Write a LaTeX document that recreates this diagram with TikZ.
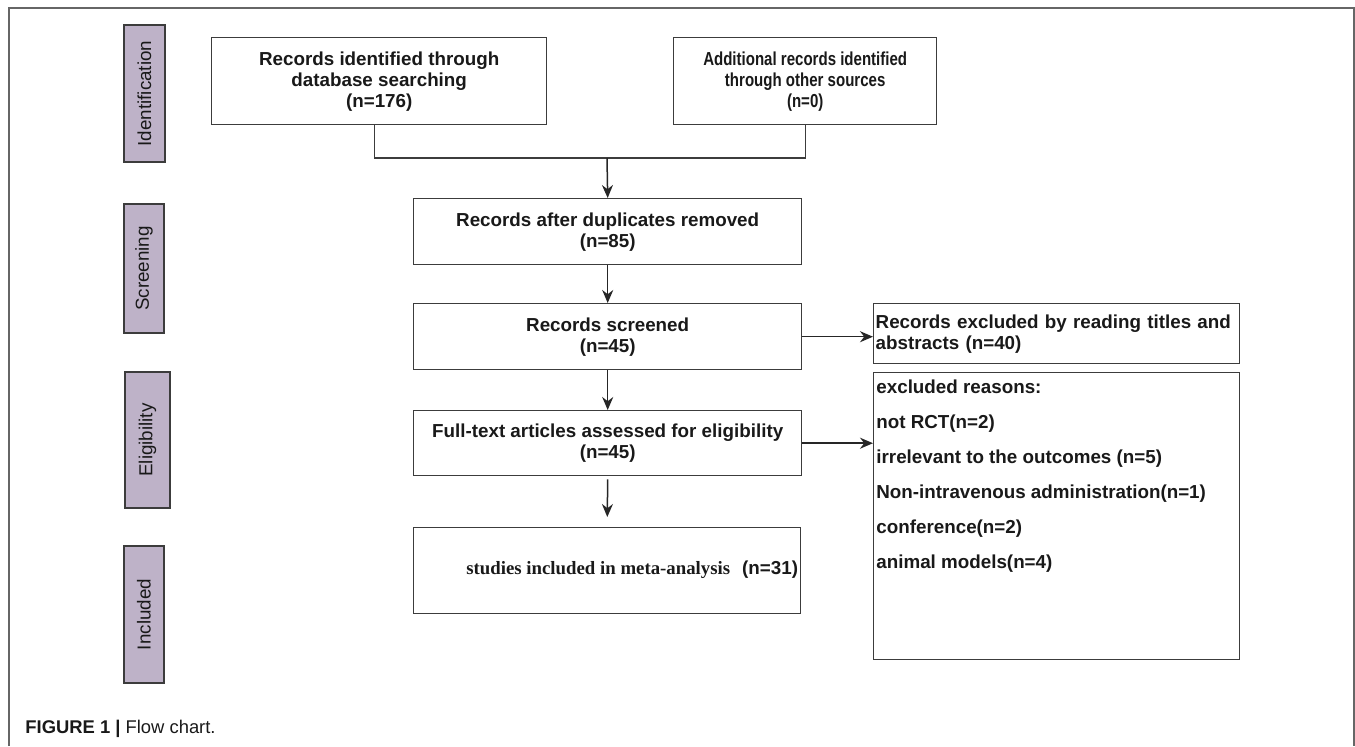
\documentclass[tikz,border=0pt]{standalone}
\usepackage{fontspec}
\setmainfont{Liberation Sans}
\newfontfamily\serifbf{Liberation Serif}
\newfontfamily\narrowsf[FakeStretch=0.8]{Liberation Sans}
\usetikzlibrary{arrows.meta}
\definecolor{phasefill}{RGB}{190,178,200}
\definecolor{boxline}{RGB}{60,60,60}

\begin{document}
\begin{tikzpicture}[x=0.5pt,y=-0.5pt,
  every node/.style={font=\fontsize{9.4}{10.5}\selectfont\bfseries,text=black!90},
  phase/.style={draw=boxline,line width=0.7pt,fill=phasefill,rotate=90,inner sep=0pt,font=\fontsize{9.4}{10.5}\selectfont},
  flowbox/.style={draw=boxline,line width=0.7pt,anchor=north west,align=center,inner sep=0pt},
  arr/.style={-{Stealth[length=6.5pt,width=5.5pt]},line width=0.75pt,black!85}]
\useasboundingbox (0,0) rectangle (1355,746);
% frame
\draw[black!60,line width=0.6pt] (9,746) -- (9,8) -- (1354,8) -- (1354,746);
% phases on the left
\node[phase,minimum width=68.5pt,minimum height=20.5pt] (ident) at (144.5,93.5) {Identification};
\node[phase,minimum width=64.5pt,minimum height=20pt] (screen) at (144,268.5) {Screening};
\node[phase,minimum width=68pt,minimum height=22.5pt] (elig) at (147.5,440) {Eligibility};
\node[phase,minimum width=68.5pt,minimum height=20pt] (incl) at (144,614.5) {Included};
% main flow
\node[flowbox,minimum width=167.5pt,minimum height=43.5pt] (db) at (211,37) {Records identified through\\database searching\\(n=176)};
\node[flowbox,minimum width=131.5pt,minimum height=43.5pt,font=\narrowsf\fontsize{9.4}{10.5}\selectfont\bfseries] (other) at (673,37) {Additional records identified\\through other sources\\(n=0)};
\node[flowbox,minimum width=194pt,minimum height=33pt] (dup) at (413,198) {Records after duplicates removed\\(n=85)};
\node[flowbox,minimum width=194pt,minimum height=33pt] (screened) at (413,303) {Records screened\\(n=45)};
\node[flowbox,minimum width=194pt,minimum height=32.5pt] (full) at (413,410) {Full-text articles assessed for eligibility\\(n=45)};
\node[flowbox,minimum width=193.5pt,minimum height=43pt] (studies) at (413,527) {};
\node[anchor=west,inner sep=0pt] (studlbl) at (466,570) {{\serifbf\bfseries studies included in meta-analysis}\hspace{6pt}(n=31)};
% exclusions
\node[flowbox,align=left,text width=181pt,inner xsep=1pt,minimum height=30pt] (excl1) at (873,303) {Records excluded by reading titles and\\abstracts (n=40)};
\node[flowbox,minimum width=183pt,minimum height=143.5pt] (excl2) at (873,372) {};
\node[anchor=north west,align=left,inner sep=0pt] (reasons) at ([xshift=1.5pt,yshift=-3.7pt]excl2.north west) {excluded reasons:\\[7pt]not RCT(n=2)\\[7pt]irrelevant to the outcomes (n=5)\\[7pt]Non-intravenous administration(n=1)\\[7pt]conference(n=2)\\[7pt]animal models(n=4)};
% connectors
\coordinate (join) at (607,158);
\draw[boxline,line width=0.7pt] ([xshift=-2.5pt]db.south) |- (join) -| (other.south);
\draw[arr] (join) -- (dup.north);
\foreach \a/\b in {dup/screened,screened/full} \draw[arr] (\a.south) -- (\b.north);
\draw[arr,shorten <=1.5pt,shorten >=5pt] (full.south) -- (studies.north);
\draw[arr] (screened.east) -- (screened.east -| excl1.west);
\draw[arr] (full.east) -- (full.east -| excl2.west);
% caption
\node[anchor=west,inner sep=0pt,font=\fontsize{9.2}{11}\selectfont] (caption) at (25,729) {\textbf{FIGURE 1 |} Flow chart.};
\end{tikzpicture}
\end{document}
